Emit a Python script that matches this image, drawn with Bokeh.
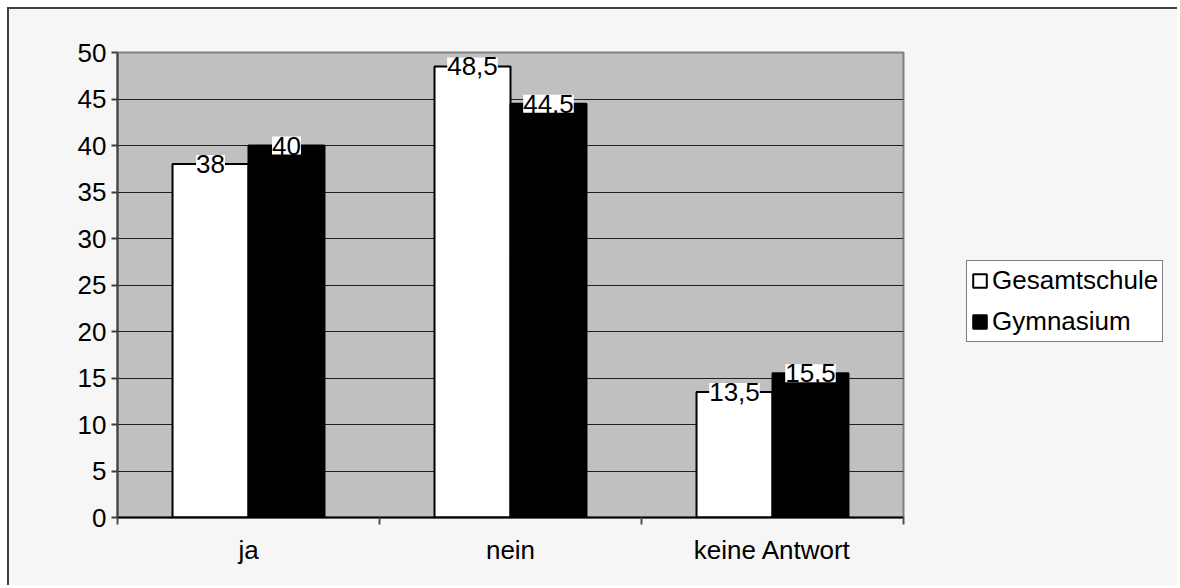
from bokeh.plotting import figure
from bokeh.layouts import row
from bokeh.models import ColumnDataSource, FixedTicker, LabelSet, Legend, LegendItem, Range1d
from bokeh.transform import dodge
from bokeh.core.properties import value
from bokeh.embed import file_html
from bokeh.resources import INLINE

categories = ["ja", "nein", "keine Antwort"]
gesamtschule = [38, 48.5, 13.5]
gymnasium = [40, 44.5, 15.5]
ges_labels = ["38", "48,5", "13,5"]
gym_labels = ["40", "44,5", "15,5"]
series_names = ["Gesamtschule", "Gymnasium"]
y_ticks = [0, 5, 10, 15, 20, 25, 30, 35, 40, 45, 50]

FONT = "Liberation Sans"
FS = "26px"
BW = 0.29
BG = "#f6f6f6"

xs = [i + 0.5 for i in range(len(categories))]
src = ColumnDataSource(dict(x=xs, ges=gesamtschule, gym=gymnasium,
                            ges_lbl=ges_labels, gym_lbl=gym_labels))

p = figure(width=904, height=576, output_backend="svg", toolbar_location=None,
           x_range=Range1d(0, len(categories)), y_range=Range1d(0, 50),
           min_border_left=108, min_border_right=10, min_border_top=43, min_border_bottom=68)
p.border_fill_color = BG
p.background_fill_color = "#c0c0c0"
p.outline_line_color = "#808080"
p.outline_line_width = 2

bar_ges = dict(fill_color="white", line_color="black", line_width=2)
bar_gym = dict(fill_color="black", line_color="black", line_width=2)

r1 = p.vbar(x=dodge("x", -BW / 2, range=p.x_range), top="ges", width=BW, source=src, **bar_ges)
r2 = p.vbar(x=dodge("x", BW / 2, range=p.x_range), top="gym", width=BW, source=src, **bar_gym)

for col, lbl, off in [("ges", "ges_lbl", -BW / 2), ("gym", "gym_lbl", BW / 2)]:
    ls = LabelSet(x=dodge("x", off, range=p.x_range), y=col, text=lbl, source=src,
                  text_align="center", text_baseline="middle",
                  text_font=value(FONT), text_font_size=value(FS), text_color="black",
                  background_fill_color="white")
    p.add_layout(ls)

# axes
xa = p.xaxis[0]
xa.ticker = FixedTicker(ticks=xs, minor_ticks=list(range(len(categories) + 1)))
xa.major_label_overrides = {x: c for x, c in zip(xs, categories)}
xa.major_tick_out = 0
xa.major_tick_in = 0
xa.minor_tick_out = 7
xa.minor_tick_in = 0
xa.minor_tick_line_color = "#505050"
xa.minor_tick_line_width = 2
xa.axis_line_color = "black"
xa.axis_line_width = 2
xa.major_label_standoff = 10

ya = p.yaxis[0]
ya.ticker = FixedTicker(ticks=y_ticks)
ya.major_tick_out = 6
ya.major_tick_in = 0
ya.minor_tick_line_color = None
ya.major_tick_line_color = "#404040"
ya.major_tick_line_width = 2
ya.axis_line_color = "#404040"
ya.axis_line_width = 2
ya.major_label_standoff = 5

for ax in (xa, ya):
    ax.major_label_text_font = FONT
    ax.major_label_text_font_size = FS
    ax.major_label_text_color = "black"
    try:
        ax.major_label_background_fill_color = "white"
    except Exception:
        pass

p.xgrid.grid_line_color = None
p.ygrid.ticker = FixedTicker(ticks=y_ticks)
p.ygrid.grid_line_color = "#202020"
p.ygrid.grid_line_width = 1

# legend panel (separate figure to the right, no axes)
q = figure(width=264, height=576, output_backend="svg", toolbar_location=None,
           x_range=Range1d(0, 1), y_range=Range1d(0, 1),
           x_axis_type=None, y_axis_type=None,
           min_border_left=0, min_border_right=0, min_border_top=0, min_border_bottom=0)
q.border_fill_color = BG
q.background_fill_color = BG
q.outline_line_color = None
q.xgrid.grid_line_color = None
q.ygrid.grid_line_color = None
l1 = q.vbar(x="x", top="ges", width=BW, source=src, **bar_ges)
l2 = q.vbar(x="x", top="gym", width=BW, source=src, **bar_gym)
l1.visible = False
l2.visible = False

legend = Legend(items=[LegendItem(label=series_names[0], renderers=[l1]),
                       LegendItem(label=series_names[1], renderers=[l2])],
                location=(53, 175))
legend.border_line_color = "black"
legend.border_line_width = 1
legend.background_fill_color = "white"
legend.background_fill_alpha = 1
legend.label_text_font = FONT
legend.label_text_font_size = FS
legend.label_text_color = "black"
legend.glyph_width = 17
legend.glyph_height = 17
legend.label_standoff = 4
legend.padding = 4
legend.spacing = 10
legend.margin = 0
q.add_layout(legend)

layout = row(p, q)
layout.styles = {"margin-left": "7px", "margin-top": "7px", "background-color": BG,
                 "border-left": "2px solid #404040", "border-top": "2px solid #404040"}

open("out.html", "w").write(file_html(layout, INLINE))
